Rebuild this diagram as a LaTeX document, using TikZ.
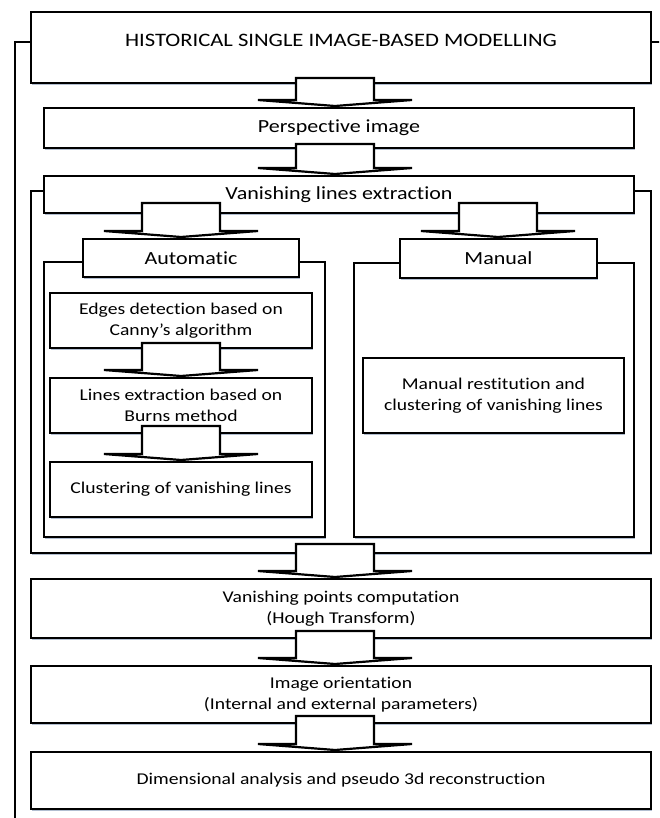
\documentclass[tikz,border=0pt]{standalone}
\usepackage{fontspec}
\setmainfont{Carlito}[FakeStretch=1.19, Ligatures=NoCommon]
\usetikzlibrary{calc,shadows}
\definecolor{shadowc}{RGB}{178,190,208}
\tikzset{
  box/.style={draw=black, line width=2.7pt, fill=white, rectangle, inner sep=0pt, outer sep=0pt,
    drop shadow={shadow xshift=1.3pt, shadow yshift=-2pt, fill=shadowc, opacity=1}},
  frame/.style={draw=black, line width=2.7pt},
  arr/.style={draw=black, line width=2.2pt, fill=white, line join=miter},
  txt/.style={font=\fontsize{16.5}{21}\selectfont, align=center},
  bigtxt/.style={font=\fontsize{18.5}{22}\selectfont, align=center},
  titletxt/.style={font=\fontsize{19}{23}\selectfont, inner sep=0pt},
}
\newcommand\blockarrow[4]{% #1 x centre, #2 source node, #3 target node, #4 overlap into source
  \draw[arr] let \p2=(#2.south), \p3=(#3.north) in
    ({#1pt-39pt},{\y2+#4pt}) -- ({#1pt+39pt},{\y2+#4pt}) -- ({#1pt+39pt},{\y3+8pt})
    -- ({#1pt+77pt},{\y3+8pt}) -- ({#1pt},{\y3+2pt}) -- ({#1pt-77pt},{\y3+8pt})
    -- ({#1pt-39pt},{\y3+8pt}) -- cycle;}
\begin{document}
\begin{tikzpicture}[x=1pt,y=-1pt]
\clip (0,0) rectangle (659,818);
\fill[white] (0,0) rectangle (659,818);
% outer frame
\draw[frame] (15,840) |- (670,42) -- (670,840);
% boxes
\node[box, minimum width=620, minimum height=71] (title) at (341,47.5) {};
\node[titletxt] (titletext) at (341,40) {HISTORICAL SINGLE IMAGE-BASED MODELLING};
\node[box, bigtxt, minimum width=590, minimum height=40] (persp) at (339,128) {Perspective image};
\node[box, minimum width=620, minimum height=362] (cont) at (341,372) {};
\node[box, bigtxt, minimum width=590, minimum height=37] (vanish) at (339,194.5) {Vanishing lines extraction};
\node[box, minimum width=281, minimum height=275] (autoc) at (184.5,399.5) {};
\node[box, bigtxt, minimum width=216, minimum height=38] (autob) at (191,258) {Automatic};
\node[box, minimum width=280, minimum height=274] (manc) at (494,400) {};
\node[box, bigtxt, minimum width=197, minimum height=39] (manb) at (498.5,258.5) {Manual};
\node[box, txt, minimum width=262, minimum height=55] (edges) at (181,320.5) {Edges detection based on\\Canny’s algorithm};
\node[box, txt, minimum width=262, minimum height=55] (lines) at (181,405.5) {Lines extraction based on\\Burns method};
\node[box, txt, minimum width=262, minimum height=55] (clus) at (181,489.5) {Clustering of vanishing lines};
\node[box, txt, minimum width=261, minimum height=75] (manr) at (493.5,395.5) {Manual restitution and\\clustering of vanishing lines};
\node[box, txt, minimum width=620, minimum height=59] (vp) at (341,608.5) {Vanishing points computation\\(Hough Transform)};
\node[box, txt, minimum width=620, minimum height=57] (io) at (341,694.5) {Image orientation\\(Internal and external parameters)};
\node[box, txt, minimum width=620, minimum height=57] (dim) at (341,780.5) {Dimensional analysis and pseudo 3d reconstruction};
% block arrows
\blockarrow{335}{title}{persp}{5}
\blockarrow{335}{persp}{vanish}{4}
\blockarrow{181}{vanish}{autob}{10}
\blockarrow{498}{vanish}{manb}{10}
\blockarrow{181}{edges}{lines}{5}
\blockarrow{181}{lines}{clus}{7}
\blockarrow{335}{cont}{vp}{9}
\blockarrow{335}{vp}{io}{7}
\blockarrow{335}{io}{dim}{7}
\end{tikzpicture}
\end{document}
